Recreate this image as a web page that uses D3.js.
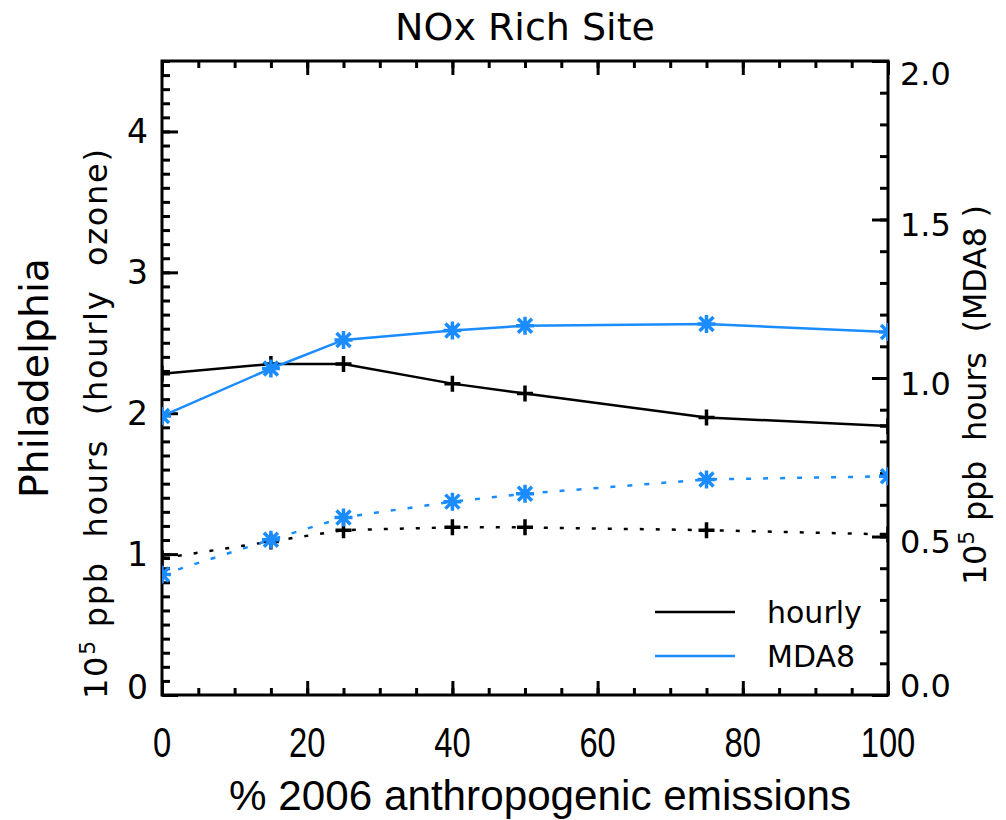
<!DOCTYPE html>
<html>
<head>
<meta charset="utf-8">
<script src="https://cdn.jsdelivr.net/npm/d3@7"></script>
<style>
  body { margin: 0; background: #fff; }
  svg { display: block; }
</style>
</head>
<body>
<svg width="1006" height="820"></svg>
<script>
// % of 2006 anthropogenic emissions
const emissions = [0, 15, 25, 40, 50, 75, 100];
// hourly ozone, 10^5 ppb hours (left axis)
const hourlySolid = [2.28, 2.35, 2.35, 2.21, 2.14, 1.97, 1.91];
const hourlyDotted = [0.97, 1.09, 1.17, 1.19, 1.19, 1.17, 1.14];
// MDA8, 10^5 ppb hours (right axis)
const mda8Solid = [0.88, 1.03, 1.12, 1.15, 1.165, 1.17, 1.145];
const mda8Dotted = [0.38, 0.49, 0.56, 0.61, 0.635, 0.68, 0.69];

const xTicks = [0, 20, 40, 60, 80, 100];
const leftTicks = [0, 1, 2, 3, 4];
const rightTicks = [0, 0.5, 1.0, 1.5, 2.0];

const blue = "#1a8cff";
const plot = { left: 162, right: 888, top: 61, bottom: 695 };

const svg = d3.select("svg");

const x = d3.scaleLinear().domain([0, 100]).range([plot.left, plot.right]);
const yL = d3.scaleLinear().domain([0, 4.5]).range([plot.bottom, plot.top]);
const yR = d3.scaleLinear().domain([0, 2]).range([plot.bottom, plot.top]);

svg.append("clipPath").attr("id", "clip")
  .append("rect")
  .attr("x", plot.left).attr("y", plot.top)
  .attr("width", plot.right - plot.left).attr("height", plot.bottom - plot.top);

// ticks (inward), drawn with d3 axes
function tickAxis(axis, tx, ty) {
  const g = svg.append("g").attr("transform", `translate(${tx},${ty})`).call(axis);
  g.select(".domain").remove();
  g.selectAll(".tick line").attr("stroke", "#000").attr("stroke-width", 3);
  g.selectAll("text").remove();
  return g;
}
const minorX = d3.range(0, 101, 5);
const minorL = d3.range(0, 4.51, 0.1);
const minorR = d3.range(0, 2.01, 0.1);

tickAxis(d3.axisBottom(x).tickValues(minorX).tickSize(-7), 0, plot.bottom);
tickAxis(d3.axisBottom(x).tickValues(xTicks).tickSize(-14), 0, plot.bottom);
tickAxis(d3.axisTop(x).tickValues(minorX).tickSize(-7), 0, plot.top);
tickAxis(d3.axisTop(x).tickValues(xTicks).tickSize(-14), 0, plot.top);
tickAxis(d3.axisLeft(yL).tickValues(minorL).tickSize(-8), plot.left, 0);
tickAxis(d3.axisLeft(yL).tickValues(leftTicks).tickSize(-16), plot.left, 0);
tickAxis(d3.axisRight(yR).tickValues(minorR).tickSize(-8), plot.right, 0);
tickAxis(d3.axisRight(yR).tickValues(rightTicks).tickSize(-16), plot.right, 0);

// frame
svg.append("rect")
  .attr("x", plot.left).attr("y", plot.top)
  .attr("width", plot.right - plot.left).attr("height", plot.bottom - plot.top)
  .attr("fill", "none").attr("stroke", "#000").attr("stroke-width", 3);

// tick labels (bottom ones are narrow in the original)
svg.append("g").selectAll("text").data(xTicks).join("text")
  .attr("transform", d => `translate(${x(d)},757) scale(0.78,1)`)
  .attr("text-anchor", "middle")
  .style("font-family", "'Liberation Sans', Arial, sans-serif")
  .style("font-size", "42px")
  .text(d => d);

svg.append("g").selectAll("text").data(leftTicks).join("text")
  .attr("x", 148).attr("y", d => yL(d) + (d === 0 ? -8 : 0)).attr("dy", "0.36em")
  .attr("text-anchor", "end")
  .style("font-family", "'DejaVu Sans', Verdana, sans-serif")
  .style("font-size", "33px")
  .text(d => d);

svg.append("g").selectAll("text").data(rightTicks).join("text")
  .attr("x", 900).attr("y", d => yR(d) + (d === 2 ? 12 : d === 0 ? -10 : 5)).attr("dy", "0.36em")
  .attr("text-anchor", "start")
  .style("font-family", "'DejaVu Sans', Verdana, sans-serif")
  .style("font-size", "32px")
  .text(d => d.toFixed(1));

// title and axis titles
svg.append("text")
  .attr("x", (plot.left + plot.right) / 2).attr("y", 40)
  .attr("text-anchor", "middle")
  .style("font-family", "'DejaVu Sans', Verdana, sans-serif")
  .style("font-size", "38px")
  .text("NOx Rich Site");

svg.append("text")
  .attr("x", (plot.left + plot.right) / 2 + 15).attr("y", 810)
  .attr("text-anchor", "middle")
  .attr("textLength", 622).attr("lengthAdjust", "spacingAndGlyphs")
  .style("font-family", "'Liberation Sans', Arial, sans-serif")
  .style("font-size", "42px")
  .text("% 2006 anthropogenic emissions");

svg.append("text")
  .attr("transform", "translate(48,378) rotate(-90)")
  .attr("text-anchor", "middle")
  .attr("textLength", 240).attr("lengthAdjust", "spacingAndGlyphs")
  .style("font-family", "'DejaVu Sans', Verdana, sans-serif")
  .style("font-size", "39px")
  .text("Philadelphia");

function ppbLabel(tx, ty, rest, len) {
  const t = svg.append("text")
    .attr("transform", `translate(${tx},${ty}) rotate(-90)`)
    .attr("text-anchor", "middle")
    .attr("textLength", len).attr("lengthAdjust", "spacing")
    .style("font-family", "'DejaVu Sans', Verdana, sans-serif")
    .style("font-size", "32px");
  t.append("tspan").text("10");
  t.append("tspan").attr("dy", -12).style("font-size", "22px").text("5");
  t.append("tspan").attr("dy", 12).attr("xml:space", "preserve").text(rest);
}
ppbLabel(107, 424, " ppb  hours  (hourly  ozone)", 550);
ppbLabel(986, 395, " ppb  hours  (MDA8 )", 380);

// series
const plotG = svg.append("g").attr("clip-path", "url(#clip)");
const series = [
  { vals: hourlySolid, y: yL, color: "#000", dash: null, marker: "plus" },
  { vals: hourlyDotted, y: yL, color: "#000", dash: "4,12", marker: "plus" },
  { vals: mda8Solid, y: yR, color: blue, dash: null, marker: "star" },
  { vals: mda8Dotted, y: yR, color: blue, dash: "5,12", marker: "star" }
];

series.forEach(s => {
  const pts = emissions.map((e, i) => [x(e), s.y(s.vals[i])]);
  plotG.append("path")
    .datum(pts)
    .attr("d", d3.line())
    .attr("fill", "none")
    .attr("stroke", s.color)
    .attr("stroke-width", 2.5)
    .attr("stroke-dasharray", s.dash);
  const m = plotG.append("g").selectAll("g").data(pts).join("g")
    .attr("transform", d => `translate(${d[0]},${d[1]})`);
  if (s.marker === "plus") {
    m.append("path").attr("d", "M-8,0H8M0,-8V8")
      .attr("stroke", s.color).attr("stroke-width", 3.5);
  } else {
    m.append("path")
      .attr("d", "M-9,0H9M0,-9V9M-7,-7L7,7M-7,7L7,-7")
      .attr("stroke", s.color).attr("stroke-width", 3.5);
  }
});

// legend
const legend = [
  { name: "hourly", color: "#000", y: 612 },
  { name: "MDA8", color: blue, y: 656 }
];
const lg = svg.append("g").selectAll("g").data(legend).join("g");
lg.append("line")
  .attr("x1", 655).attr("x2", 735)
  .attr("y1", d => d.y).attr("y2", d => d.y)
  .attr("stroke", d => d.color).attr("stroke-width", 2.5);
lg.append("text")
  .attr("x", 767).attr("y", d => d.y + 11)
  .style("font-family", "'DejaVu Sans', Verdana, sans-serif")
  .style("font-size", "30px")
  .text(d => d.name);
</script>
</body>
</html>
